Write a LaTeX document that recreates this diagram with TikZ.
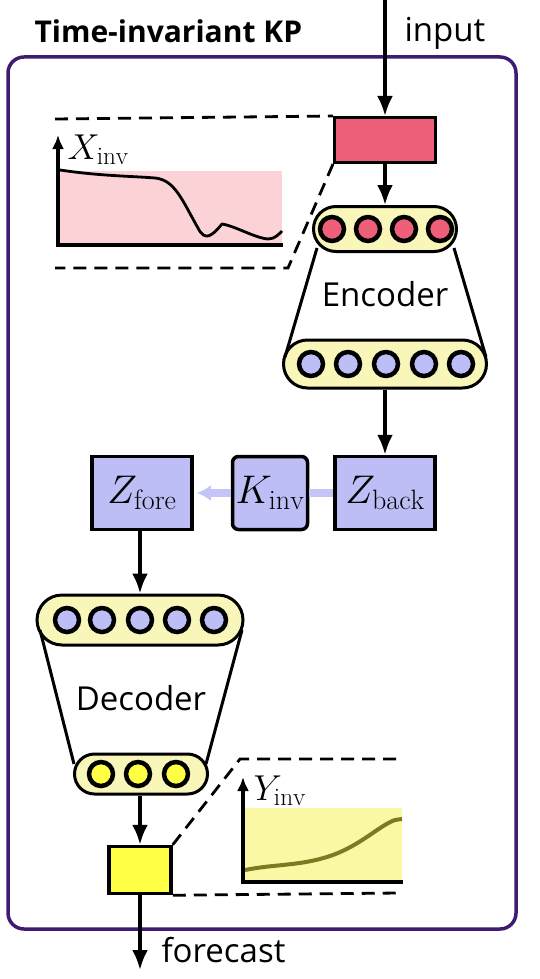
\RequirePackage{fix-cm}
\documentclass[tikz,border=0pt]{standalone}
\usepackage{amsmath}
\usepackage{fontspec}
\setsansfont{Open Sans}
\usetikzlibrary{arrows.meta}
\usetikzlibrary{positioning}
\usetikzlibrary{shapes.misc}
\definecolor{inred}{HTML}{EE5F7A}
\definecolor{plotpink}{HTML}{FBD3D7}
\definecolor{layeryellow}{HTML}{F8F6B8}
\definecolor{latent}{HTML}{BEBEF6}
\definecolor{koopline}{HTML}{C4C4F6}
\definecolor{outyellow}{HTML}{FFFF44}
\definecolor{plotyellow}{HTML}{FAF8A4}
\definecolor{olivecurve}{HTML}{7D7A22}
\definecolor{framecol}{HTML}{3F1C72}
\tikzset{flow/.style = {line width=3.5pt, -{Latex[length=20pt,width=16pt]}},
         callout/.style = {line width=2.8pt, dash pattern=on 13pt off 8pt},
         zbox/.style = {draw, line width=3.5pt, fill=latent, minimum width=100pt,
                        minimum height=73pt, inner sep=0pt,
                        font=\fontsize{40}{42}\selectfont},
         layer/.style = {draw, line width=3pt, fill=layeryellow, rounded rectangle,
                         inner sep=0pt},
         unit/.style = {circle, draw, line width=4.5pt, minimum size=24pt, inner sep=0pt},
         label/.style = {font=\sffamily\fontsize{33}{36}\selectfont}}

\begin{document}
\begin{tikzpicture}[x=1pt, y=-1pt]
      \useasboundingbox (0,0) rectangle (540,979);

      % frame and title
      \draw [framecol, line width=3.5pt, rounded corners=16pt] (8,57) rectangle (516,929);
      \node [anchor=base west, font=\sffamily\bfseries\fontsize{30}{34}\selectfont]
            (title) at (31,43) {Time-invariant KP};
      \node [label, anchor=base west] (inlabel) at (401,42) {input};

      % encoder
      \node [draw, line width=3pt, fill=inred, minimum width=101pt, minimum height=45pt]
            (inbox) at (385,140) {};
      \node [layer, minimum width=143pt, minimum height=45pt] (enctop) at (385,229) {};
      \foreach \x [count=\i] in {332,368,404,440}
        \node [unit, fill=inred] (er\i) at (\x,229) {};
      \node [layer, minimum width=203pt, minimum height=48pt] (encbot) at (385,364) {};
      \foreach \x [count=\i] in {311,348,386,424,461}
        \node [unit, fill=latent] (eb\i) at (\x,364) {};
      \draw [line width=3pt] (317,248) -- (285,357);
      \draw [line width=3pt] (454,248) -- (486,357);
      \node [label] (enclabel) at (385,294) {Encoder};

      \coordinate (instart) at (385,0);
      \draw [flow] (instart) -- (inbox);
      \draw [flow] (inbox) -- (enctop);

      % X_inv plot
      \fill [plotpink] (60,171) rectangle (282,245);
      \draw [line width=2.8pt, line join=round]
            (60,170) .. controls (100,176) and (130,176) .. (155,178)
            .. controls (175,180) and (182,200) .. (198,228)
            .. controls (205,242) and (212,236) .. (222,224)
            .. controls (235,226) and (255,238) .. (268,239)
            .. controls (275,239) and (279,234) .. (282,231);
      \draw [line width=3.5pt, {Latex[length=14pt,width=12pt]}-] (58,135) -- (58,245) -- (283,245);
      \node [anchor=base west, font=\fontsize{36}{38}\selectfont] (xlabel) at (64,159) {$X_{\mathrm{inv}}$};
      \draw [callout] (55,119) -- (inbox.north west);
      \draw [callout] (inbox.south west) -- (288,268) -- (55,268);

      % latent space
      \node [zbox] (zback) at (385,493) {$Z_{\mathrm{back}}$};
      \node [zbox, minimum width=75pt, rounded corners=6pt] (kinv) at (270,493) {$K_{\mathrm{inv}}$};
      \node [zbox] (zfore) at (142,493) {$Z_{\mathrm{fore}}$};
      \draw [flow] (encbot) -- (zback);
      \draw [koopline, line width=8pt] (zback) -- (kinv);
      \draw [koopline, line width=8pt, shorten >=3pt, -{Latex[length=14pt,width=16pt]}] (kinv) -- (zfore);

      % decoder
      \node [layer, minimum width=206pt, minimum height=50pt] (dectop) at (140,620) {};
      \foreach \x [count=\i] in {67,102,140,177,214}
        \node [unit, fill=latent] (dt\i) at (\x,620) {};
      \node [layer, minimum width=133pt, minimum height=40pt] (decbot) at (141,774) {};
      \foreach \x [count=\i] in {101,138,176}
        \node [unit, fill=outyellow] (db\i) at (\x,774) {};
      \draw [line width=3pt] (40,630) -- (74,764);
      \draw [line width=3pt] (242,630) -- (206,764);
      \node [label] (declabel) at (141,698) {Decoder};
      \draw [flow] (zfore.south -| dectop) -- (dectop);

      \node [draw, line width=3.5pt, fill=outyellow, minimum width=62pt, minimum height=47pt]
            (outbox) at (140,870) {};
      \draw [flow] (decbot.south -| outbox) -- (outbox);
      \coordinate (outend) at (140,970);
      \draw [flow] (outbox) -- (outend);
      \node [label, anchor=base west] (outlabel) at (158,962) {forecast};

      % Y_inv plot
      \fill [plotyellow] (245,808) rectangle (402,882);
      \draw [olivecurve, line width=4pt]
            (245,870) .. controls (275,864) and (300,866) .. (330,856)
            .. controls (360,846) and (380,825) .. (395,820) -- (402,819);
      \draw [line width=3.5pt, {Latex[length=14pt,width=12pt]}-] (243,777) -- (243,882) -- (403,882);
      \node [anchor=base west, font=\fontsize{36}{38}\selectfont] (ylabel) at (250,800) {$Y_{\mathrm{inv}}$};
      \draw [callout] (outbox.north east) -- (240,759) -- (399,759);
      \draw [callout] (outbox.south east) -- (399,893);
    \end{tikzpicture}
\end{document}
